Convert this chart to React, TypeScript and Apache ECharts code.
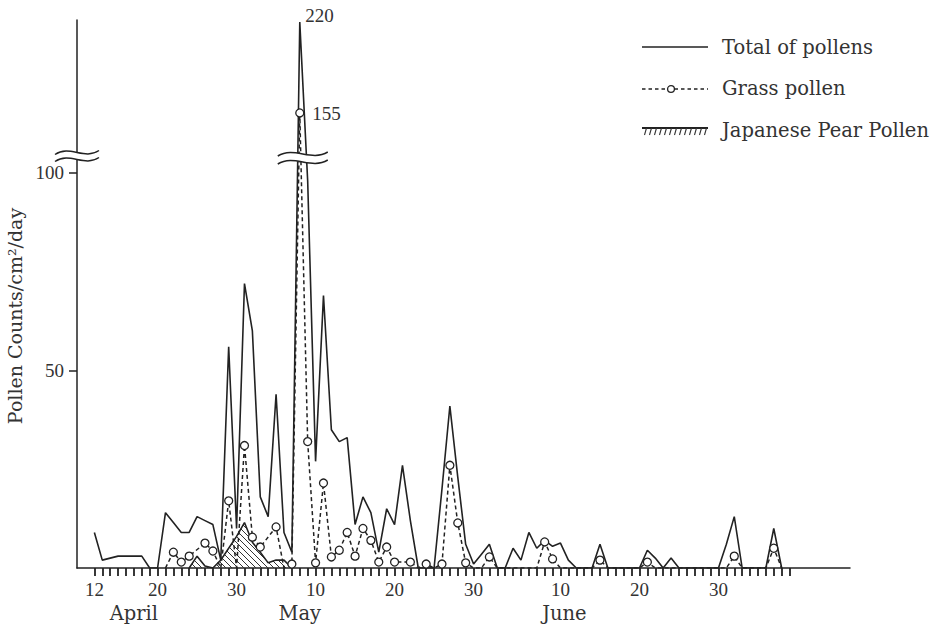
import React, { useEffect, useRef } from "react";
import * as echarts from "echarts";

// Day index 0 = April 12 (one value per day)
const totalPollen: number[] = [
  9, 2, 2.5, 3, 3, 3, 3, 0, 0, 14,
  11.5, 9, 9, 13, 12, 11, 2, 56, 10, 72,
  60, 18, 13, 44, 9, 4, 220, 98, 27, 69,
  35, 32, 33, 11, 18, 14, 4, 15, 11, 26,
  12, 0, 0, 0, 20, 41, 23, 6, 1, 3.5,
  6, 0, 0, 5, 2, 9, 5, 7, 5.5, 6.3,
  2, 0, 0, 0, 6, 0, 0, 0, 0, 0,
  4.5, 2.5, 0, 2.5, 0, 0, 0, 0, 0, 0,
  6, 13, 0, 0, 0, 0, 10, 0,
];

const grassPollen: (number | null)[] = [
  null, null, null, null, null, null, null, null, null, 0,
  4, 1.5, 3, null, 6.3, 4.3, 0, 17, 0, 31,
  7.8, 5.3, null, 10.4, 0, 1, 155, 32, 1.3, 21.5,
  2.8, 4.5, 9, 3, 10, 7, 1.5, 5.3, 1.5, null,
  1.5, 0, 1, 0, 1, 26, 11.4, 1.3, 0, 0,
  2.8, 0, 0, 0, 0, 0, 0, 6.6, 2.3, 0,
  0, 0, 0, 0, 2, 0, 0, 0, 0, 0,
  1.5, 0, 0, 0, 0, 0, 0, 0, 0, 0,
  0, 3, 0, 0, 0, 0, 5, 0,
];

const pearPollen: (number | null)[] = [
  null, null, null, null, null, null, null, null, null, null,
  null, null, 0, 3, 0.5, 0, 2, 5, 8, 11.5,
  6.5, 4, 1.3, 2, 2, 0,
];

const dateLabelDays = [0, 8, 18, 28, 38, 48, 59, 69, 79];
const dateLabels = ["12", "20", "30", "10", "20", "30", "10", "20", "30"];
const monthLabelDays = [5, 26, 59.5];
const monthLabels = ["April", "May", "June"];
const yTickValues = [50, 100];
const LAST_TICK_DAY = 88;
const PEAK_DAY = 26;

const X_MIN = -2.2;
const X_MAX = 95.65;
const Y_MAX = 138.73;
const BREAK_Y = 104.3;

// broken axis: values above 100 are drawn on a compressed scale
function toDisplay(v: number): number {
  return v <= 100 ? v : 115.2 + (v - 155) * (23 / 65);
}

const svgUrl = (s: string) =>
  "data:image/svg+xml;charset=utf-8," + encodeURIComponent(s);

const INK = "#222";
const TEXT = "#333";

export default function App() {
  const ref = useRef<HTMLDivElement>(null);

  useEffect(() => {
    const el = ref.current!;
    const chart = echarts.init(el, null, { renderer: "svg" });

    const toPairs = (arr: (number | null)[]) =>
      arr
        .map((v, i) => (v == null ? null : [i, toDisplay(v)]))
        .filter((p) => p !== null) as number[][];

    const dayTicks: number[] = [];
    for (let i = 0; i <= LAST_TICK_DAY; i++) dayTicks.push(i);

    const hatch = svgUrl(
      '<svg xmlns="http://www.w3.org/2000/svg" width="6" height="6" viewBox="0 0 6 6">' +
        '<path d="M0,0L6,6M-1,5L1,7M5,-1L7,1" stroke="#333" stroke-width="1" fill="none"/></svg>'
    );

    let pearTicks = "";
    for (let x = 3; x < 66; x += 5) pearTicks += `M${x + 1.5},5L${x - 0.5},12`;
    const iconTotal =
      "image://" +
      svgUrl(
        '<svg xmlns="http://www.w3.org/2000/svg" width="66" height="14" viewBox="0 0 66 14">' +
          '<line x1="0" y1="7" x2="66" y2="7" stroke="#222" stroke-width="1.6"/></svg>'
      );
    const iconGrass =
      "image://" +
      svgUrl(
        '<svg xmlns="http://www.w3.org/2000/svg" width="66" height="14" viewBox="0 0 66 14">' +
          '<line x1="0" y1="7.5" x2="66" y2="7.5" stroke="#222" stroke-width="1.5" stroke-dasharray="3.5 3"/>' +
          '<circle cx="29" cy="7.5" r="3.4" fill="#fff" stroke="#222" stroke-width="1.3"/></svg>'
      );
    const iconPear =
      "image://" +
      svgUrl(
        '<svg xmlns="http://www.w3.org/2000/svg" width="66" height="14" viewBox="0 0 66 14">' +
          '<line x1="0" y1="5" x2="66" y2="5" stroke="#222" stroke-width="2"/>' +
          `<path d="${pearTicks}" stroke="#333" stroke-width="1.1" fill="none"/></svg>`
      );

    const option: any = {
      animation: false,
      backgroundColor: "#fff",
      grid: { left: 77, right: 82, top: 20, bottom: 62, containLabel: false, outerBoundsMode: "none" },
      legend: {
        orient: "vertical",
        left: 642,
        top: 36,
        padding: 0,
        itemGap: 19.5,
        itemWidth: 66,
        itemHeight: 14,
        selectedMode: false,
        textStyle: {
          fontFamily: "DejaVu Serif",
          fontSize: 19.5,
          color: TEXT,
          padding: [0, 0, 0, 9],
          lineHeight: 22,
        },
        data: [
          { name: "Total of pollens", icon: iconTotal },
          { name: "Grass pollen", icon: iconGrass },
          { name: "Japanese Pear Pollen", icon: iconPear },
        ],
      },
      xAxis: [
        {
          type: "value",
          min: X_MIN,
          max: X_MAX,
          splitLine: { show: false },
          axisLine: { show: true, onZero: false, lineStyle: { color: INK, width: 1.5 } },
          axisTick: {
            show: true,
            customValues: dayTicks,
            length: 8,
            lineStyle: { color: INK, width: 1.8 },
          },
          axisLabel: {
            customValues: dateLabelDays,
            margin: 12,
            fontFamily: "Liberation Serif",
            fontSize: 19,
            color: TEXT,
            formatter: (v: number) => {
              const i = dateLabelDays.indexOf(Math.round(v));
              return i >= 0 ? dateLabels[i] : "";
            },
          },
        },
        {
          type: "value",
          min: X_MIN,
          max: X_MAX,
          position: "bottom",
          splitLine: { show: false },
          axisLine: { show: false, onZero: false },
          axisTick: { show: false },
          axisLabel: {
            customValues: monthLabelDays,
            margin: 35,
            fontFamily: "DejaVu Serif",
            fontSize: 19.5,
            color: TEXT,
            formatter: (v: number) => {
              let best = 0;
              monthLabelDays.forEach((d, i) => {
                if (Math.abs(d - v) < Math.abs(monthLabelDays[best] - v)) best = i;
              });
              return monthLabels[best];
            },
          },
        },
      ],
      yAxis: {
        type: "value",
        min: 0,
        max: Y_MAX,
        splitLine: { show: false },
        axisLine: { show: true, onZero: false, lineStyle: { color: INK, width: 1.5 } },
        axisTick: {
          show: true,
          customValues: yTickValues,
          length: 8,
          lineStyle: { color: INK, width: 1.5 },
        },
        axisLabel: {
          customValues: yTickValues,
          margin: 13,
          fontFamily: "Liberation Serif",
          fontSize: 19,
          color: TEXT,
        },
        name: "Pollen Counts/cm²/day",
        nameLocation: "middle",
        nameGap: 50,
        nameTextStyle: {
          fontFamily: "DejaVu Serif",
          fontSize: 19,
          color: TEXT,
          padding: [0, 44, 0, 0],
        },
      },
      series: [
        {
          name: "Japanese Pear Pollen",
          type: "line",
          z: 1,
          symbol: "none",
          data: toPairs(pearPollen),
          lineStyle: { color: INK, width: 1.6 },
          itemStyle: { color: INK },
          areaStyle: {
            opacity: 1,
            color: { image: hatch, repeat: "repeat", imageWidth: 6, imageHeight: 6 },
          },
        },
        {
          name: "Total of pollens",
          type: "line",
          z: 2,
          symbol: "none",
          data: toPairs(totalPollen),
          lineStyle: { color: INK, width: 1.6 },
          itemStyle: { color: INK },
          markPoint: {
            symbol: "circle",
            symbolSize: 1,
            itemStyle: { color: "rgba(0,0,0,0)" },
            label: {
              show: true,
              position: "right",
              distance: 5,
              offset: [0, -7],
              fontFamily: "Liberation Serif",
              fontSize: 19,
              color: TEXT,
              formatter: "{c}",
            },
            data: [{ coord: [PEAK_DAY, toDisplay(totalPollen[PEAK_DAY])], value: totalPollen[PEAK_DAY] }],
          },
        },
        {
          name: "Grass pollen",
          type: "line",
          z: 3,
          symbol: "circle",
          showSymbol: true,
          symbolSize: (val: number[]) => (val[1] > 0 ? 8 : 0),
          data: toPairs(grassPollen),
          lineStyle: { color: INK, width: 1.5, type: [4, 3] },
          itemStyle: { color: "#fff", borderColor: INK, borderWidth: 1.3 },
          markPoint: {
            symbol: "circle",
            symbolSize: 1,
            itemStyle: { color: "rgba(0,0,0,0)" },
            label: {
              show: true,
              position: "right",
              distance: 12,
              offset: [0, 1],
              fontFamily: "Liberation Serif",
              fontSize: 19,
              color: TEXT,
              formatter: "{c}",
            },
            data: [{ coord: [PEAK_DAY, toDisplay(grassPollen[PEAK_DAY] as number)], value: grassPollen[PEAK_DAY] }],
          },
        },
      ],
    };

    chart.setOption(option);

    // break marks (≈) on the y axis and on the tall peak
    const breakMark = (cx: number, cy: number, w: number, gap: number) => {
      const mk = (dy: number) => ({
        x1: cx - w / 2,
        y1: cy + dy + 2,
        cpx1: cx - w / 6,
        cpy1: cy + dy - 8,
        cpx2: cx + w / 6,
        cpy2: cy + dy + 8,
        x2: cx + w / 2,
        y2: cy + dy - 2,
      });
      const bez = (s: any, t: number) => {
        const u = 1 - t;
        return [
          u * u * u * s.x1 + 3 * u * u * t * s.cpx1 + 3 * u * t * t * s.cpx2 + t * t * t * s.x2,
          u * u * u * s.y1 + 3 * u * u * t * s.cpy1 + 3 * u * t * t * s.cpy2 + t * t * t * s.y2,
        ];
      };
      const up = mk(-gap / 2);
      const lo = mk(gap / 2);
      const pts: number[][] = [];
      for (let i = 0; i <= 20; i++) pts.push(bez(up, i / 20));
      for (let i = 20; i >= 0; i--) pts.push(bez(lo, i / 20));
      return [
        { type: "polygon", silent: true, z: 100, shape: { points: pts }, style: { fill: "#fff" } },
        { type: "bezierCurve", silent: true, z: 101, shape: up, style: { stroke: INK, lineWidth: 1.5, fill: "none" } },
        { type: "bezierCurve", silent: true, z: 101, shape: lo, style: { stroke: INK, lineWidth: 1.5, fill: "none" } },
      ];
    };

    const pAxis = chart.convertToPixel({ gridIndex: 0 }, [X_MIN, BREAK_Y]) as number[];
    const pPeak = chart.convertToPixel({ gridIndex: 0 }, [PEAK_DAY, BREAK_Y]) as number[];
    chart.setOption({
      graphic: [
        ...breakMark(pAxis[0], pAxis[1], 44, 7),
        ...breakMark(pPeak[0] + 3, pPeak[1] + 2, 50, 8),
      ],
    });

    return () => chart.dispose();
  }, []);

  return (
    <div
      ref={ref}
      style={{ position: "absolute", left: 0, top: 0, width: 932, height: 630, background: "#fff" }}
    />
  );
}
